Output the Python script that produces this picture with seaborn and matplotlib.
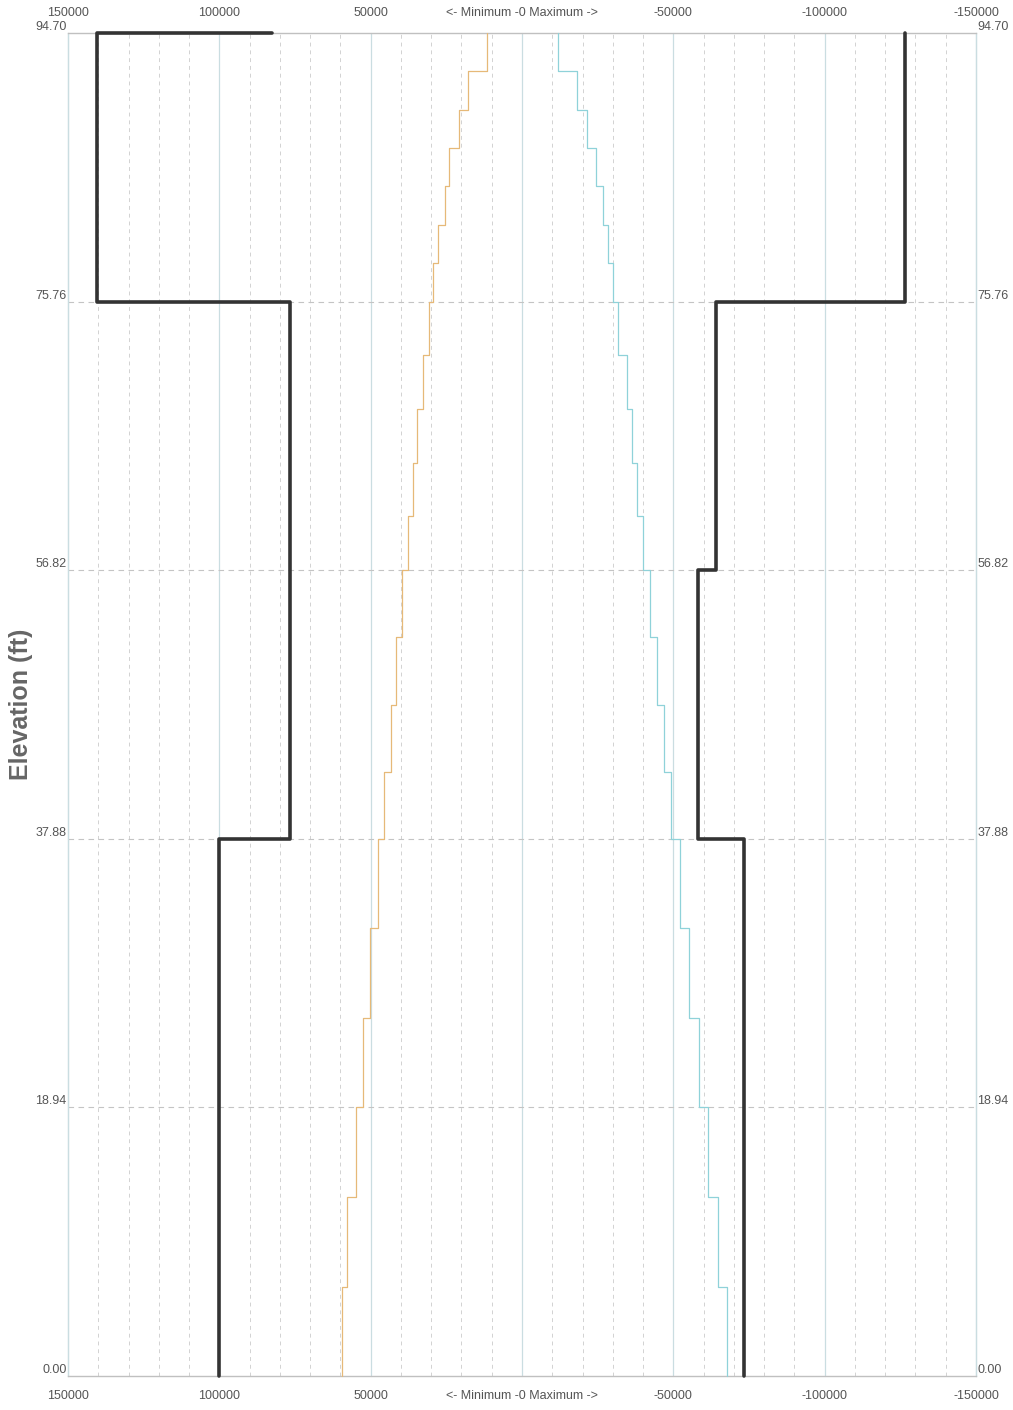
import matplotlib
matplotlib.use('Agg')
import matplotlib.pyplot as plt
import numpy as np
import pandas as pd
import seaborn as sns

# elevations where the demand profiles change (ft), top to bottom
elev_breaks = [94.70, 91.99, 89.29, 86.58, 83.88, 81.17, 78.47, 75.76, 71.97, 68.18,
               64.40, 60.61, 56.82, 52.09, 47.35, 42.62, 37.88, 31.57, 25.25, 18.94,
               12.63, 6.31, 0.00]
# demand per segment (one value between each pair of breaks)
min_demand = [11600, 17800, 20800, 24100, 25400, 27700, 29400, 30700, 32700, 34700, 36000,
              37700, 39500, 41600, 43400, 45600, 47500, 50200, 52600, 54900, 57900, 59600]
max_demand = [-12000, -18100, -21400, -24300, -26900, -28500, -30200, -31800, -34600, -36200,
              -37900, -40100, -42400, -44700, -47000, -49200, -52200, -55100, -58600, -61500,
              -64700, -67800]

# capacity envelope
cap_left_elev = [94.70, 94.70, 75.76, 75.76, 37.88, 37.88, 0.00]
cap_left = [82600, 140400, 140400, 76700, 76700, 100000, 100000]
cap_right_elev = [94.70, 75.76, 75.76, 56.82, 56.82, 37.88, 37.88, 0.00]
cap_right = [-126500, -126500, -64100, -64100, -58200, -58200, -73400, -73400]

x_ticks = [150000, 100000, 50000, 0, -50000, -100000, -150000]
x_labels = ['150000', '100000', '50000', '<- Minimum -0 Maximum ->', '-50000', '-100000', '-150000']
y_ticks = [0.00, 18.94, 37.88, 56.82, 75.76, 94.70]


def step_profile(values):
    xs, ys = [], []
    for i, v in enumerate(values):
        xs += [v, v]
        ys += [elev_breaks[i], elev_breaks[i + 1]]
    return pd.DataFrame({'value': xs, 'elev': ys})


sns.set_theme(style="white")
plt.rcParams['font.family'] = ['Liberation Sans', 'DejaVu Sans']

fig = plt.figure(figsize=(10.13, 14.10), dpi=100)
ax = fig.add_axes([0.0671, 0.0241, 0.8964, 0.9525])

# grid
for v in np.arange(-150000, 150001, 10000):
    if v % 50000 == 0:
        ax.axvline(v, color='#cadde1', lw=0.9, zorder=0)
    else:
        ax.axvline(v, color='#d2d2d2', lw=0.7, ls=(0, (4, 4)), zorder=0)
for y in y_ticks[1:-1]:
    ax.axhline(y, color='#c4c4c4', lw=0.8, ls=(0, (5, 4)), zorder=0)

lo = step_profile(min_demand)
hi = step_profile(max_demand)
sns.lineplot(data=lo, x='value', y='elev', sort=False, estimator=None,
             color='#e6b978', lw=0.9, ax=ax, zorder=4)
sns.lineplot(data=hi, x='value', y='elev', sort=False, estimator=None,
             color='#8fd2d9', lw=0.9, ax=ax, zorder=4)
sns.lineplot(x=cap_left, y=cap_left_elev, sort=False, estimator=None,
             color='#333333', lw=2.6, ax=ax, zorder=5)
sns.lineplot(x=cap_right, y=cap_right_elev, sort=False, estimator=None,
             color='#333333', lw=2.6, ax=ax, zorder=5)
for line in ax.lines:
    line.set_clip_on(False)

ax.set_xlim(150000, -150000)
ax.set_ylim(0, 94.70)
ax.set_xticks(x_ticks)
ax.set_xticklabels(x_labels)
ax.set_yticks(y_ticks)
ax.set_yticklabels([f'{y:.2f}' for y in y_ticks])
ax.tick_params(axis='x', top=True, labeltop=True, bottom=True, labelbottom=True,
               length=0, pad=10, labelsize=9, labelcolor='#555555')
ax.tick_params(axis='y', left=True, labelleft=True, right=True, labelright=True,
               length=0, pad=1, labelsize=9, labelcolor='#555555')
for t in ax.yaxis.get_major_ticks():
    t.label1.set_va('bottom')
    t.label2.set_va('bottom')

for side in ['top', 'bottom']:
    ax.spines[side].set_color('#c0c0c0')
    ax.spines[side].set_linewidth(1.0)
    ax.spines[side].set_zorder(3)
for side in ['left', 'right']:
    ax.spines[side].set_color('#cadde1')
    ax.spines[side].set_linewidth(0.9)
    ax.spines[side].set_zorder(3)

ax.set_xlabel('')
ax.set_ylabel('Elevation (ft)', fontsize=18, fontweight='bold', color='#666666')
ax.yaxis.set_label_coords(-0.039, 0.5)

fig.savefig('out.png', dpi=100)
